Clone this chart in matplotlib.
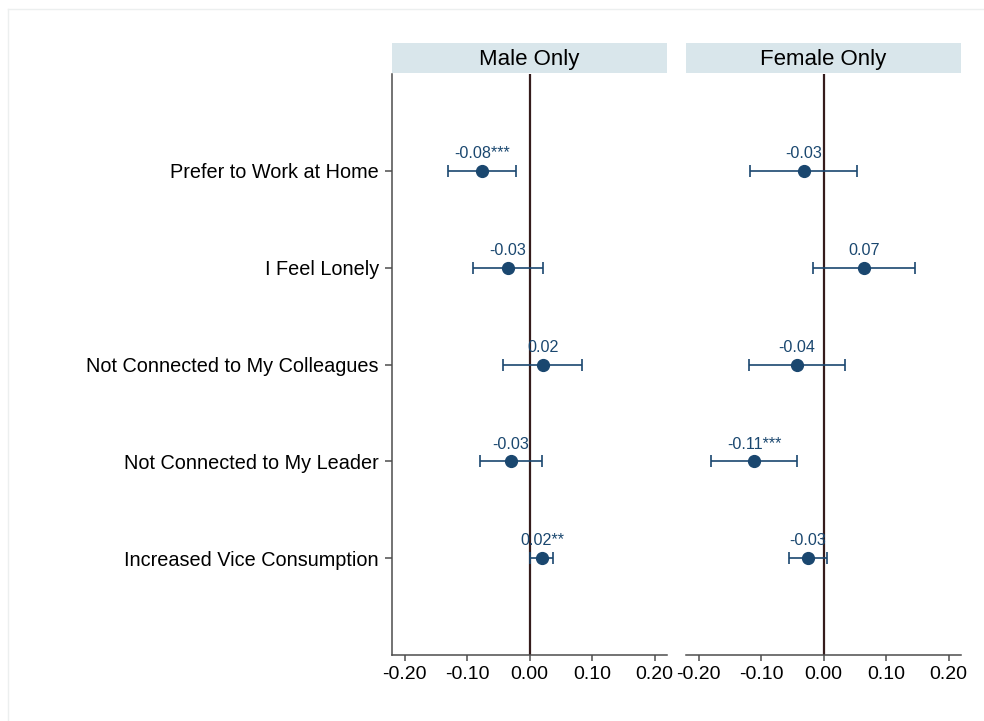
import matplotlib
matplotlib.use("Agg")
import matplotlib.pyplot as plt
from matplotlib.patches import Rectangle
from matplotlib.lines import Line2D

plt.rcParams['font.family'] = ['Liberation Sans', 'DejaVu Sans']

categories = ["Prefer to Work at Home", "I Feel Lonely", "Not Connected to My Colleagues",
              "Not Connected to My Leader", "Increased Vice Consumption"]
panels = ["Male Only", "Female Only"]

male_est = [-0.076, -0.035, 0.021, -0.030, 0.020]
male_lo = [-0.131, -0.090, -0.042, -0.080, 0.001]
male_hi = [-0.021, 0.021, 0.084, 0.020, 0.037]
male_lab = ["-0.08***", "-0.03", "0.02", "-0.03", "0.02**"]

female_est = [-0.032, 0.065, -0.043, -0.111, -0.025]
female_lo = [-0.117, -0.017, -0.120, -0.180, -0.056]
female_hi = [0.053, 0.146, 0.034, -0.042, 0.005]
female_lab = ["-0.03", "0.07", "-0.04", "-0.11***", "-0.03"]

xticks = [-0.20, -0.10, 0.00, 0.10, 0.20]
xticklabels = ["-0.20", "-0.10", "0.00", "0.10", "0.20"]

navy = '#1a476f'
header_col = '#d9e6eb'
zero_col = '#351c1c'
spine_col = '#4d4d4d'

W, H = 984, 721
fig = plt.figure(figsize=(W / 100, H / 100), dpi=100)

# faint frame
fig.add_artist(Line2D([8 / W, 8 / W], [0, 1 - 9 / H], transform=fig.transFigure, color='#ecefef', lw=1))
fig.add_artist(Line2D([8 / W, 1], [1 - 9 / H, 1 - 9 / H], transform=fig.transFigure, color='#ecefef', lw=1))

ax_bottom = 1 - 655 / H
ax_h = (655 - 74) / H
lefts = [392 / W, 686 / W]
width = 275 / W

data = [(male_est, male_lo, male_hi, male_lab), (female_est, female_lo, female_hi, female_lab)]
ypos = list(range(1, len(categories) + 1))

for i, (title, (est, lo, hi, lab)) in enumerate(zip(panels, data)):
    ax = fig.add_axes([lefts[i], ax_bottom, width, ax_h])
    ax.set_xlim(-0.22, 0.22)
    ax.set_ylim(6, 0)
    ax.axvline(0, color=zero_col, lw=1.6, zorder=1)
    xerr = [[e - l for e, l in zip(est, lo)], [h - e for e, h in zip(est, hi)]]
    ax.errorbar(est, ypos, xerr=xerr, fmt='o', color=navy, ecolor=navy,
                markersize=8.5, elinewidth=1.2, capsize=4.0, capthick=1.2, zorder=3)
    for e, y, t in zip(est, ypos, lab):
        ax.annotate(t, (e, y), xytext=(0, 9.2), textcoords='offset points',
                    ha='center', va='baseline', fontsize=11.6, color=navy)
    ax.set_xticks(xticks)
    ax.set_xticklabels(xticklabels, fontsize=14)
    ax.tick_params(axis='x', length=4, width=1.1, color=spine_col, pad=4)
    for s in ['top', 'right']:
        ax.spines[s].set_visible(False)
    ax.spines['bottom'].set_color(spine_col)
    ax.spines['bottom'].set_linewidth(1.1)
    if i == 0:
        ax.set_yticks(ypos)
        ax.set_yticklabels(categories, fontsize=14.3)
        ax.tick_params(axis='y', length=5, width=1.1, color=spine_col, pad=4.5)
        ax.spines['left'].set_color(spine_col)
        ax.spines['left'].set_linewidth(1.1)
    else:
        ax.set_yticks([])
        ax.spines['left'].set_visible(False)
    # header strip
    hb = 1 - 73 / H
    hh = 30 / H
    fig.add_artist(Rectangle((lefts[i], hb), width, hh, transform=fig.transFigure,
                             facecolor=header_col, edgecolor='none'))
    fig.text(lefts[i] + width / 2, hb + hh / 2 - 1.5 / H, title, ha='center', va='center', fontsize=16)

fig.savefig('out.png', dpi=100)
